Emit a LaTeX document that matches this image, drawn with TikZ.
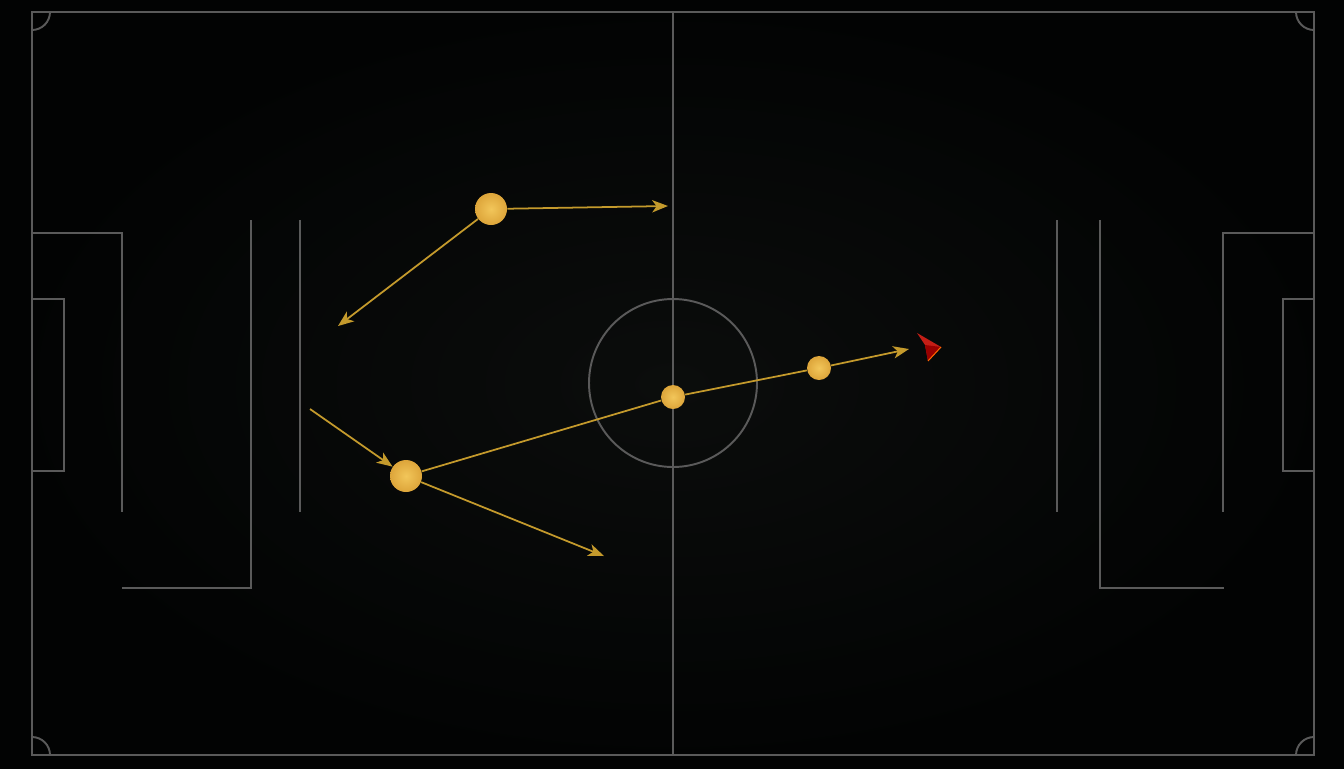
\documentclass[tikz,border=0pt]{standalone}
\usepackage{tikz}
\usetikzlibrary{calc, arrows, shapes, arrows.meta}
\newlength{\pxu}
\setlength{\pxu}{0.02cm}
\tikzset{>={Stealth[length=9pt,width=7pt,inset=2.5pt]}}
\definecolor{pitch}{HTML}{020303}
\definecolor{glow}{HTML}{0B0D0C}
\definecolor{chalk}{HTML}{5A5A5A}
\definecolor{gold}{HTML}{DDA53A}
\definecolor{goldlight}{HTML}{F2C65A}
\definecolor{pass}{HTML}{C49A2C}
\definecolor{marker}{HTML}{C41E16}
\tikzset{
  line/.style={draw=chalk, line width=1.1pt},
  player/.style={circle, inner sep=0pt, inner color=goldlight, outer color=gold},
  big/.style={player, minimum size=32\pxu},
  small/.style={player, minimum size=24\pxu},
  run/.style={->, draw=pass, line width=1pt},
}

\begin{document}
\begin{tikzpicture}[x=0.02cm, y=-0.02cm]
\shade[inner color=glow, outer color=pitch] (0,0) rectangle (1344,768);
\useasboundingbox (0,0) rectangle (1344,768);
% field
\draw[line] (32,12) rectangle (1314,755);
\draw[line] (673,12) -- (673,755);
\draw[line] (673,383) circle (84);
\draw[line] (32,30) arc (90:0:18);
\draw[line] (1296,12) arc (180:90:18);
\draw[line] (50,755) arc (0:-90:18);
\draw[line] (1314,737) arc (-90:-180:18);
% left side
\draw[line] (32,233) -- (122,233) -- (122,512);
\draw[line] (32,299) -- (64,299) -- (64,471) -- (32,471);
\draw[line] (251,220) -- (251,588) -- (122,588);
\draw[line] (300,220) -- (300,512);
% right side
\draw[line] (1314,233) -- (1223,233) -- (1223,512);
\draw[line] (1314,299) -- (1283,299) -- (1283,471) -- (1314,471);
\draw[line] (1100,220) -- (1100,588) -- (1224,588);
\draw[line] (1057,220) -- (1057,512);
% players
\node[big] (p1) at (491,209) {};
\node[big] (p2) at (406,476) {};
\node[small] (p3) at (673,397) {};
\node[small] (p4) at (819,368) {};
\coordinate (t1) at (668,206);
\coordinate (t2) at (338,326);
\coordinate (s2) at (310,409);
\coordinate (t3) at (604,556);
\coordinate (t4) at (909,349);
% passes
\draw[run] (p1) -- (t1);
\draw[run] (p1) -- (t2);
\draw[run] (s2) -- (p2);
\draw[run] (p2) -- (t3);
\draw[draw=pass, line width=1pt] (p2) -- (p3) -- (p4);
\draw[run] (p4) -- (t4);
% marker
\fill[marker] (917,333) -- (941,347) -- (928,361) -- (925,345) -- cycle;
\fill[red!60!black] (925,345) -- (941,347) -- (928,361) -- cycle;
\draw[orange!80!red, line width=0.6pt] (941,347) -- (928,361);
\end{tikzpicture}
\end{document}
